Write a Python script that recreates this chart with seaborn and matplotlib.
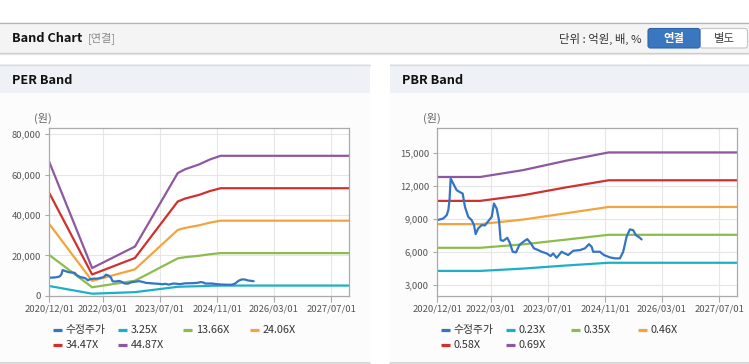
import numpy as np
import pandas as pd
import matplotlib
matplotlib.use("Agg")
import matplotlib.pyplot as plt
from matplotlib.patches import Rectangle, FancyBboxPatch
from matplotlib.lines import Line2D
import seaborn as sns

sns.set_theme(style="white")
plt.rcParams['font.family'] = ['Noto Sans CJK KR', 'DejaVu Sans']
plt.rcParams['axes.unicode_minus'] = False

# ---------------- data ----------------
price_label = "수정주가"
price_dates = [
    "2020-12-01", "2021-01-21", "2021-02-19", "2021-03-05", "2021-03-15", "2021-03-25",
    "2021-04-16", "2021-05-15", "2021-06-18", "2021-07-05", "2021-07-25", "2021-08-22",
    "2021-09-20", "2021-10-10", "2021-10-24", "2021-11-15", "2021-12-14", "2022-01-11",
    "2022-02-09", "2022-03-10", "2022-03-29", "2022-04-21", "2022-05-11", "2022-05-25",
    "2022-06-16", "2022-07-21", "2022-08-13", "2022-09-05", "2022-10-03", "2022-10-31",
    "2022-12-04", "2023-01-07", "2023-02-07", "2023-03-05", "2023-04-11", "2023-05-10",
    "2023-06-21", "2023-07-25", "2023-08-16", "2023-09-14", "2023-10-27", "2023-11-24",
    "2023-12-22", "2024-02-03", "2024-03-31", "2024-05-13", "2024-06-16", "2024-07-09",
    "2024-07-22", "2024-09-17", "2024-10-22", "2024-12-12", "2025-01-23", "2025-03-07",
    "2025-04-04", "2025-05-03", "2025-05-31", "2025-06-28", "2025-07-21", "2025-08-24",
    "2025-09-08",
]
price_values = [
    8910, 9060, 9360, 9820, 10720, 12690,
    12230, 11630, 11420, 11330, 10110, 9210,
    8910, 8460, 7640, 8160, 8460, 8430,
    8820, 9210, 10420, 9970, 8910, 7100,
    7030, 7310, 6800, 6040, 5980, 6640,
    6940, 7190, 6800, 6350, 6190, 6040,
    5890, 5650, 5890, 5490, 6040, 5890,
    5740, 6130, 6190, 6350, 6730, 6490,
    6040, 6040, 5740, 5530, 5440, 5440,
    6040, 7400, 8070, 8000, 7550, 7310,
    7160,
]

per_dates = ["2020-12-01", "2021-12-01", "2022-12-01", "2023-12-01", "2024-02-01",
             "2024-06-01", "2024-09-01", "2024-12-01", "2027-12-01"]
per_labels = ["3.25X", "13.66X", "24.06X", "34.47X", "44.87X"]
per_3_25 = [4790, 990, 1760, 4400, 4530, 4710, 4890, 5020, 5020]
per_13_66 = [20150, 4170, 7400, 18480, 19060, 19790, 20550, 21090, 21090]
per_24_06 = [35490, 7340, 13040, 32550, 33560, 34860, 36190, 37150, 37150]
per_34_47 = [50840, 10510, 18680, 46640, 48090, 49950, 51840, 53220, 53220]
per_44_87 = [66180, 13690, 24320, 60710, 62590, 65020, 67480, 69280, 69280]

pbr_dates = ["2020-12-01", "2021-12-01", "2022-12-01", "2023-12-01", "2024-12-01", "2027-12-01"]
pbr_labels = ["0.23X", "0.35X", "0.46X", "0.58X", "0.69X"]
pbr_0_23 = [4300, 4300, 4510, 4790, 5040, 5040]
pbr_0_35 = [6400, 6400, 6710, 7140, 7580, 7580]
pbr_0_46 = [8550, 8550, 8960, 9530, 10110, 10110]
pbr_0_58 = [10660, 10660, 11170, 11880, 12530, 12530]
pbr_0_69 = [12830, 12830, 13450, 14300, 15060, 15060]

x_tick_dates = ["2020-12-01", "2022-03-01", "2023-07-01", "2024-11-01", "2026-03-01", "2027-07-01"]
x_tick_labels = ["2020/12/01", "2022/03/01", "2023/07/01", "2024/11/01", "2026/03/01", "2027/07/01"]
per_y_ticks = [0, 20000, 40000, 60000, 80000]
pbr_y_ticks = [3000, 6000, 9000, 12000, 15000]

colors = ["#3474c4", "#1cb0c8", "#8cbc4c", "#f2a53c", "#cf312e", "#8e58a0"]

# ---------------- helpers ----------------
def long_df(band_dates, band_labels, band_series):
    parts = [pd.DataFrame({"date": pd.to_datetime(price_dates), "value": price_values,
                           "series": price_label})]
    for lab, vals in zip(band_labels, band_series):
        parts.append(pd.DataFrame({"date": pd.to_datetime(band_dates), "value": vals,
                                   "series": lab}))
    return pd.concat(parts, ignore_index=True)


W, H = 749, 364
fig = plt.figure(figsize=(W / 100, H / 100), dpi=100)
fig.patch.set_facecolor("white")

bg = fig.add_axes([0, 0, 1, 1], zorder=0)
bg.set_xlim(0, W)
bg.set_ylim(H, 0)
bg.axis("off")

# top header bar
bg.add_patch(Rectangle((0, 22), W, 31, fc="#f4f4f4", ec="none"))
bg.add_line(Line2D([0, W], [22.5, 22.5], color="#b5b5b5", lw=0.9))
bg.add_line(Line2D([0, W], [52.5, 52.5], color="#c9c9c9", lw=0.9))
bg.add_line(Line2D([0, W], [53.5, 53.5], color="#e6e6e6", lw=0.9))
bg.text(11.5, 38.5, "Band Chart", fontsize=9.2, fontweight="bold", color="#111111",
        va="center", ha="left")
bg.text(88, 38.5, "[연결]", fontsize=8, color="#8a8a8a", va="center", ha="left")
bg.text(642, 38.5, "단위 : 억원, 배, %", fontsize=8.2, color="#333333", va="center", ha="right")
bg.add_patch(FancyBboxPatch((700, 28.5), 47.5, 19.5, boxstyle="round,pad=0,rounding_size=2.5",
                            fc="white", ec="#c6c6c6", lw=0.8))
bg.add_patch(FancyBboxPatch((648, 28.5), 52, 19.5, boxstyle="round,pad=0,rounding_size=2.5",
                            fc="#3a77c0", ec="#2e65a6", lw=0.8))
bg.text(674, 38.5, "연결", fontsize=8.2, fontweight="bold", color="white", va="center", ha="center")
bg.text(724, 38.5, "별도", fontsize=8.2, color="#444444", va="center", ha="center")

# panels
for px0, px1, title in [(0, 370, "PER Band"), (390, W, "PBR Band")]:
    bg.add_patch(Rectangle((px0, 64), px1 - px0, 29, fc="#eef1f5", ec="none"))
    bg.add_patch(Rectangle((px0, 93), px1 - px0, 269, fc="#fcfcfc", ec="none"))
    bg.add_line(Line2D([px0, px1], [64.5, 64.5], color="#dadada", lw=0.9))
    bg.add_line(Line2D([px0, px1], [362.5, 362.5], color="#d3d3d3", lw=1.2))
    bg.text(px0 + 12, 80, title, fontsize=9.2, fontweight="bold", color="#111111",
            va="center", ha="left")


def draw_chart(left_px, band_dates, band_labels, band_series, ylim, yticks, unit_x):
    ax = fig.add_axes([left_px / W, (H - 295.7) / H, 300 / W, 167.4 / H], zorder=2)
    df = long_df(band_dates, band_labels, band_series)
    order = [price_label] + band_labels
    palette = dict(zip(order, colors))
    # bands first, price on top
    sns.lineplot(data=df[df.series != price_label], x="date", y="value", hue="series",
                 hue_order=band_labels, palette=palette, linewidth=1.6, estimator=None,
                 legend=False, ax=ax)
    sns.lineplot(data=df[df.series == price_label], x="date", y="value", color=palette[price_label],
                 linewidth=1.6, estimator=None, legend=False, ax=ax)
    ax.set_facecolor("white")
    ax.set_xlim(pd.Timestamp("2020-12-01"), pd.Timestamp("2027-12-03"))
    ax.set_ylim(*ylim)
    ax.set_xticks(pd.to_datetime(x_tick_dates))
    ax.set_xticklabels(x_tick_labels)
    ax.set_yticks(yticks)
    ax.set_yticklabels([f"{v:,}" for v in yticks])
    ax.set_xlabel("")
    ax.set_ylabel("")
    ax.grid(True, color="#e6e6e6", lw=0.8)
    ax.set_axisbelow(True)
    for s in ax.spines.values():
        s.set_color("#aaaaaa")
        s.set_linewidth(0.9)
    ax.tick_params(axis="x", length=4, width=0.8, color="#aaaaaa", pad=2.5,
                   labelsize=6.8, labelcolor="#555555", bottom=True)
    ax.tick_params(axis="y", length=3, width=0.8, color="#aaaaaa", pad=3,
                   labelsize=6.8, labelcolor="#555555", left=True)
    bg.text(unit_x, 118, "(원)", fontsize=8, color="#666666", va="center", ha="center")

    # legend
    col_off = [0, 65, 130, 197]
    for i, (lab, col) in enumerate(zip(order, colors)):
        r, c = divmod(i, 4)
        x = left_px + 4 + col_off[c]
        y = 330 + r * 14.5
        bg.add_line(Line2D([x, x + 9], [y, y], color=col, lw=2.3, solid_capstyle="butt"))
        bg.text(x + 12.5, y, lab, fontsize=7.8, color="#333333", va="center", ha="left")
    return ax


draw_chart(49.3, per_dates, per_labels, [per_3_25, per_13_66, per_24_06, per_34_47, per_44_87],
           (0, 82900), per_y_ticks, 43)
draw_chart(437.3, pbr_dates, pbr_labels, [pbr_0_23, pbr_0_35, pbr_0_46, pbr_0_58, pbr_0_69],
           (2050, 17250), pbr_y_ticks, 432)

fig.savefig("out.png", dpi=100, facecolor="white")
